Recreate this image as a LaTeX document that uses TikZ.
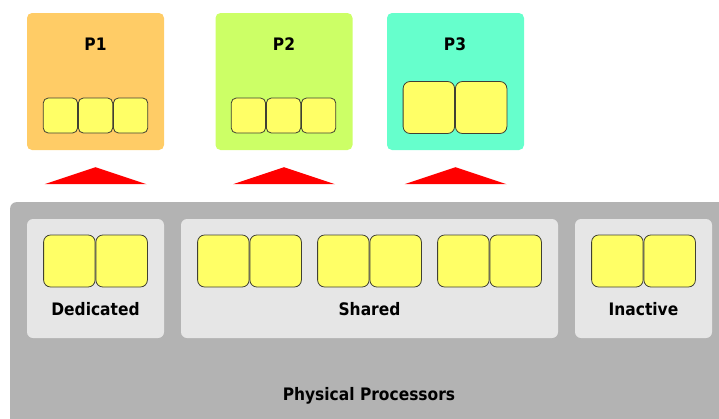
\documentclass[tikz,border=0pt]{standalone}
\usepackage{fontspec}
\setmainfont{DejaVu Sans Condensed}
\usetikzlibrary{positioning,calc}
\definecolor{lparorange}{HTML}{FFCC66}
\definecolor{lpargreen}{HTML}{CCFF66}
\definecolor{lparteal}{HTML}{66FFCC}
\definecolor{poolgray}{HTML}{B3B3B3}
\definecolor{panelgray}{HTML}{E6E6E6}
\definecolor{cpuyellow}{HTML}{FFFF66}
\definecolor{cpuedge}{HTML}{404033}

\begin{document}
\begin{tikzpicture}[x=1pt,y=-1pt,
lbl/.style={font=\fontsize{17.2}{19}\selectfont\bfseries, inner sep=0pt, anchor=base},
lpar/.style={rounded corners=5pt, minimum width=137pt, minimum height=137pt, inner sep=0pt},
panel/.style={fill=panelgray, rounded corners=6pt, minimum height=119pt, inner sep=0pt},
cpu/.style={draw=cpuedge, fill=cpuyellow, line width=0.8pt, rounded corners=5pt, minimum width=34.3pt, minimum height=35pt, inner sep=0pt},
bigcpu/.style={cpu, rounded corners=7pt, minimum width=51.5pt, minimum height=52pt}]
\useasboundingbox (0,0) rectangle (719,418);

% logical partitions
\node[lpar, fill=lparorange] (p1) at (95.5,81.5) {};
\node[lpar, fill=lpargreen] (p2) at (284,81.5) {};
\node[lpar, fill=lparteal] (p3) at (455.5,81.5) {};
\node[lbl] (p1t) at (95.5,50) {P1};
\node[lbl] (p2t) at (284,50) {P2};
\node[lbl] (p3t) at (455,50) {P3};

\node[cpu] (p1c2) at (95.5,115.5) {};
\node[cpu, left=0pt of p1c2] (p1c1) {};
\node[cpu, right=0pt of p1c2] (p1c3) {};
\node[cpu] (p2c2) at (283.5,115.5) {};
\node[cpu, left=0pt of p2c2] (p2c1) {};
\node[cpu, right=0pt of p2c2] (p2c3) {};
\node[bigcpu, anchor=east] (p3c1) at (455,107.5) {};
\node[bigcpu, right=0pt of p3c1] (p3c2) {};

\foreach \p in {p1,p2,p3}
  \fill[red] ($(\p.south)+(-51,34)$) -- ($(\p.south)+(0,17)$) -- ($(\p.south)+(51,34)$) -- cycle;

% physical processors
\node[fill=poolgray, rounded corners=6pt, minimum width=730pt, minimum height=240pt, inner sep=0pt, anchor=north west] (pool) at (10,202) {};
\node[panel, minimum width=137pt] (ded) at (95.5,278.5) {};
\node[panel, minimum width=377pt] (shr) at (369.5,278.5) {};
\node[panel, minimum width=137pt] (ina) at (643.5,278.5) {};

\node[bigcpu, anchor=east] (dc1) at (95.5,261) {};
\node[bigcpu, right=0pt of dc1] (dc2) {};
\node[bigcpu, anchor=east] (sc1) at (249.5,261) {};
\node[bigcpu, right=0pt of sc1] (sc2) {};
\node[bigcpu, anchor=east] (sc3) at (369.5,261) {};
\node[bigcpu, right=0pt of sc3] (sc4) {};
\node[bigcpu, anchor=east] (sc5) at (489.5,261) {};
\node[bigcpu, right=0pt of sc5] (sc6) {};
\node[bigcpu, anchor=east] (ic1) at (643.5,261) {};
\node[bigcpu, right=0pt of ic1] (ic2) {};

\node[lbl] (dedt) at (95.5,315) {Dedicated};
\node[lbl] (shrt) at (369.5,315) {Shared};
\node[lbl] (inat) at (643.5,315) {Inactive};
\node[lbl] (poolt) at (369,400) {Physical Processors};
\end{tikzpicture}
\end{document}
